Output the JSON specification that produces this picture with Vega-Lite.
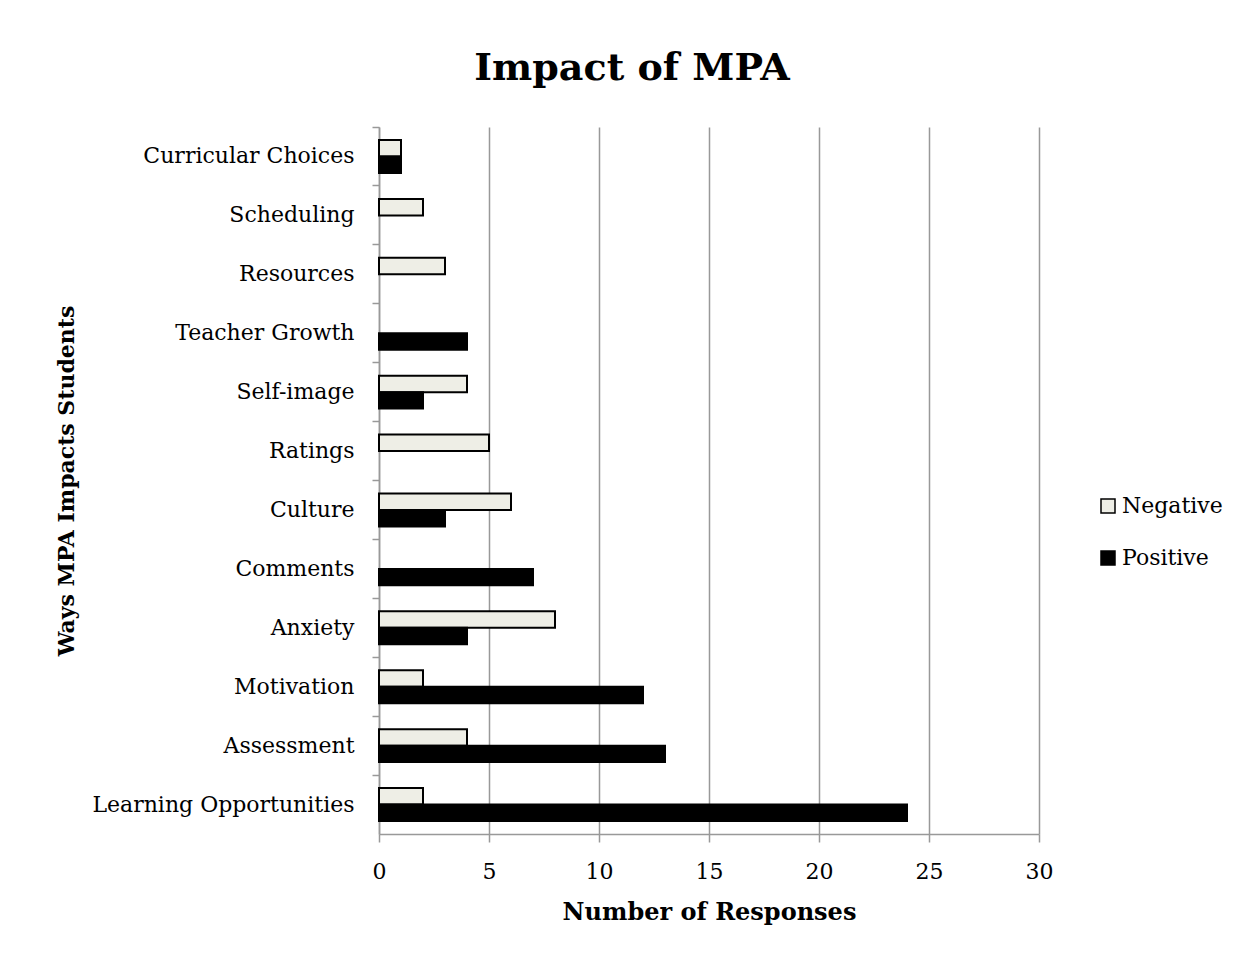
{
  "$schema": "https://vega.github.io/schema/vega-lite/v6.json",
  "width": 660,
  "height": 707,
  "padding": {"left": 55, "top": 50, "right": 20, "bottom": 10},
  "background": "white",
  "title": {
    "text": "Impact of MPA",
    "font": "DejaVu Serif",
    "fontSize": 38,
    "fontWeight": "bold",
    "color": "black",
    "anchor": "middle",
    "dx": -77,
    "offset": 38
  },
  "config": {
    "view": {"stroke": null},
    "font": "DejaVu Serif"
  },
  "data": {
    "values": [
      {"category": "Curricular Choices", "type": "Negative", "value": 1},
      {"category": "Curricular Choices", "type": "Positive", "value": 1},
      {"category": "Scheduling", "type": "Negative", "value": 2},
      {"category": "Resources", "type": "Negative", "value": 3},
      {"category": "Teacher Growth", "type": "Positive", "value": 4},
      {"category": "Self-image", "type": "Negative", "value": 4},
      {"category": "Self-image", "type": "Positive", "value": 2},
      {"category": "Ratings", "type": "Negative", "value": 5},
      {"category": "Culture", "type": "Negative", "value": 6},
      {"category": "Culture", "type": "Positive", "value": 3},
      {"category": "Comments", "type": "Positive", "value": 7},
      {"category": "Anxiety", "type": "Negative", "value": 8},
      {"category": "Anxiety", "type": "Positive", "value": 4},
      {"category": "Motivation", "type": "Negative", "value": 2},
      {"category": "Motivation", "type": "Positive", "value": 12},
      {"category": "Assessment", "type": "Negative", "value": 4},
      {"category": "Assessment", "type": "Positive", "value": 13},
      {"category": "Learning Opportunities", "type": "Negative", "value": 2},
      {"category": "Learning Opportunities", "type": "Positive", "value": 24}
    ]
  },
  "mark": {"type": "bar", "stroke": "black", "strokeWidth": 2},
  "encoding": {
    "y": {
      "field": "category",
      "type": "nominal",
      "sort": ["Curricular Choices", "Scheduling", "Resources", "Teacher Growth", "Self-image", "Ratings", "Culture", "Comments", "Anxiety", "Motivation", "Assessment", "Learning Opportunities"],
      "scale": {"paddingInner": 0, "paddingOuter": 0},
      "axis": {
        "title": "Ways MPA Impacts Students",
        "titleFont": "DejaVu Serif",
        "titleFontSize": 22,
        "titleFontWeight": "bold",
        "titleColor": "black",
        "titlePadding": 101,
        "labelFont": "DejaVu Serif",
        "labelFontSize": 22,
        "labelColor": "black",
        "labelPadding": 18,
        "labelLimit": 400,
        "bandPosition": 0,
        "domainColor": "#999999",
        "domainWidth": 1.5,
        "tickColor": "#999999",
        "tickWidth": 1.5,
        "tickSize": 7,
        "grid": false
      }
    },
    "yOffset": {
      "field": "type",
      "type": "nominal",
      "sort": ["Negative", "Positive"],
      "scale": {"paddingInner": 0, "paddingOuter": 0.79}
    },
    "x": {
      "field": "value",
      "type": "quantitative",
      "scale": {"domain": [0, 30]},
      "axis": {
        "title": "Number of Responses",
        "titleFont": "DejaVu Serif",
        "titleFontSize": 24,
        "titleFontWeight": "bold",
        "titleColor": "black",
        "titlePadding": 18,
        "values": [0, 5, 10, 15, 20, 25, 30],
        "labelFlush": false,
        "labelFont": "DejaVu Serif",
        "labelFontSize": 22,
        "labelColor": "black",
        "labelPadding": 19,
        "domainColor": "#999999",
        "domainWidth": 1.5,
        "tickColor": "#999999",
        "tickWidth": 1.5,
        "tickSize": 8,
        "grid": true,
        "gridColor": "#999999",
        "gridWidth": 1.5
      }
    },
    "fill": {
      "field": "type",
      "type": "nominal",
      "scale": {"domain": ["Negative", "Positive"], "range": ["#eeeee6", "#000000"]},
      "legend": {
        "title": null,
        "orient": "none",
        "legendX": 718,
        "legendY": 368,
        "symbolType": "square",
        "symbolSize": 196,
        "symbolStrokeColor": "black",
        "symbolStrokeWidth": 1.5,
        "labelFont": "DejaVu Serif",
        "labelFontSize": 22,
        "labelColor": "black",
        "labelOffset": 3,
        "rowPadding": 30
      }
    }
  }
}
